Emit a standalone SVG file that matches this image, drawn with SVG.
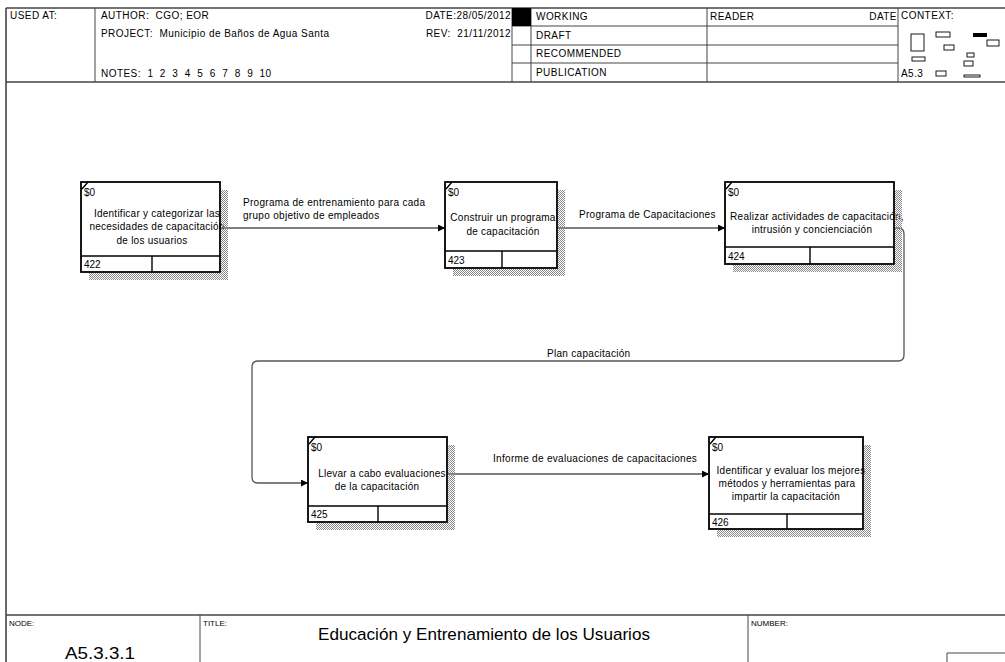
<svg xmlns="http://www.w3.org/2000/svg" width="1005" height="662" viewBox="0 0 1005 662">
  <style>
    text { font-family: "Liberation Sans", Arial, sans-serif; fill: #000; white-space: pre; }
    .hdr { font-size: 10px; letter-spacing: 0.45px; }
    .lbl { font-size: 10px; letter-spacing: 0.3px; }
    .nt  { font-size: 10px; letter-spacing: 0.25px; text-anchor: middle; }
    .small { font-size: 10px; }
    .frame { stroke: #444; stroke-width: 1.6; fill: none; }
    .thin { stroke: #444; stroke-width: 1; fill: none; }
    .box { stroke: #000; stroke-width: 1.8; fill: #fff; }
    .div { stroke: #000; stroke-width: 1.4; fill: none; }
    .shadow { fill: url(#hatch); }
    .conn { stroke: #555; stroke-width: 1.3; fill: none; }
    .ctx { stroke: #000; stroke-width: 0.9; fill: #fff; }
  </style>
  <defs>
    <pattern id="hatch" width="2" height="2" patternUnits="userSpaceOnUse">
      <rect width="1" height="1" fill="#8a8a8a"/>
      <rect x="1" y="1" width="1" height="1" fill="#8a8a8a"/>
    </pattern>
    <marker id="arrow" viewBox="0 0 10 10" refX="10" refY="5" markerWidth="9" markerHeight="7" markerUnits="userSpaceOnUse" orient="auto">
      <path d="M0,0 L10,5 L0,10 Z" fill="#000"/>
    </marker>
  </defs>

  <rect width="1005" height="662" fill="#fff"/>

  <!-- header block -->
  <g id="header">
    <line class="frame" x1="6" y1="8" x2="1005" y2="8"/>
    <line class="frame" x1="6" y1="8" x2="6" y2="662"/>
    <line class="frame" x1="6" y1="82" x2="1005" y2="82"/>
    <line class="thin" x1="95" y1="8" x2="95" y2="82"/>
    <line class="thin" x1="512" y1="8" x2="512" y2="82"/>
    <line class="thin" x1="531" y1="8" x2="531" y2="82"/>
    <line class="thin" x1="707" y1="8" x2="707" y2="82"/>
    <line class="thin" x1="898" y1="8" x2="898" y2="82"/>
    <line class="thin" x1="512" y1="26" x2="898" y2="26"/>
    <line class="thin" x1="512" y1="45" x2="898" y2="45"/>
    <line class="thin" x1="512" y1="63" x2="898" y2="63"/>
    <rect x="512" y="8" width="19" height="18" fill="#000"/>
    <text class="hdr" x="10" y="19">USED AT:</text>
    <text class="hdr" x="101" y="19">AUTHOR:  CGO; EOR</text>
    <text class="hdr" x="101" y="37">PROJECT:  Municipio de Baños de Agua Santa</text>
    <text class="hdr" x="101" y="77">NOTES:  1  2  3  4  5  6  7  8  9  10</text>
    <text class="hdr" x="511" y="19" text-anchor="end" letter-spacing="0">DATE:28/05/2012</text>
    <text class="hdr" x="511" y="37" text-anchor="end" letter-spacing="0">REV:  21/11/2012</text>
    <text class="hdr" x="536" y="20">WORKING</text>
    <text class="hdr" x="536" y="39">DRAFT</text>
    <text class="hdr" x="536" y="57">RECOMMENDED</text>
    <text class="hdr" x="536" y="76">PUBLICATION</text>
    <text class="hdr" x="710" y="20">READER</text>
    <text class="hdr" x="897" y="20" text-anchor="end" letter-spacing="0">DATE</text>
    <text class="hdr" x="901" y="19">CONTEXT:</text>
    <text class="hdr" x="901" y="77" letter-spacing="0">A5.3</text>
    <!-- context thumbnail -->
    <rect class="ctx" x="911" y="34" width="13" height="17"/>
    <rect class="ctx" x="936" y="32" width="14" height="5"/>
    <rect x="973" y="33" width="14" height="4" fill="#000"/>
    <rect class="ctx" x="987" y="40" width="12" height="6"/>
    <rect class="ctx" x="944" y="45" width="10" height="5"/>
    <rect class="ctx" x="912" y="57" width="13" height="4"/>
    <rect class="ctx" x="967" y="53" width="7" height="4"/>
    <rect class="ctx" x="964" y="61" width="9" height="5"/>
    <rect class="ctx" x="936" y="71" width="10" height="5"/>
    <rect class="ctx" x="964" y="75" width="16" height="2"/>
  </g>

  <!-- connectors -->
  <g id="connectors">
    <line class="conn" x1="220" y1="228" x2="445" y2="228" marker-end="url(#arrow)"/>
    <text class="lbl" x="243" y="206">Programa de entrenamiento para cada</text>
    <text class="lbl" x="243" y="219">grupo objetivo de empleados</text>

    <line class="conn" x1="557" y1="228" x2="725" y2="228" marker-end="url(#arrow)"/>
    <text class="lbl" x="579" y="218">Programa de Capacitaciones</text>

    <path class="conn" d="M894,228 L898,228 Q904,228 904,234 L904,355 Q904,361 898,361 L258,361 Q252,361 252,367 L252,477 Q252,483 258,483 L308,483" marker-end="url(#arrow)"/>
    <text class="lbl" x="547" y="357">Plan capacitación</text>

    <line class="conn" x1="447" y1="474" x2="709" y2="474" marker-end="url(#arrow)"/>
    <text class="lbl" x="493" y="462">Informe de evaluaciones de capacitaciones</text>
  </g>

  <!-- activity 422 -->
  <g id="node-422">
    <rect class="box" x="81" y="182" width="139" height="90"/>
    <line class="div" x1="81" y1="256" x2="220" y2="256"/>
    <line class="div" x1="152" y1="256" x2="152" y2="272"/>
    <line class="div" x1="82" y1="189" x2="88" y2="182"/>
    <text class="small" x="84" y="196">$0</text>
    <text class="nt" x="157" y="217">Identificar y categorizar las</text>
    <text class="nt" x="157" y="230">necesidades de capacitación</text>
    <text class="nt" x="152" y="244">de los usuarios</text>
    <text class="small" x="84" y="268">422</text>
    <path class="shadow" d="M221,190 H228 V280 H89 V273 H221 Z"/>
  </g>

  <!-- activity 423 -->
  <g id="node-423">
    <rect class="box" x="445" y="182" width="112" height="86"/>
    <line class="div" x1="445" y1="251" x2="557" y2="251"/>
    <line class="div" x1="502" y1="251" x2="502" y2="268"/>
    <line class="div" x1="446" y1="189" x2="452" y2="182"/>
    <text class="small" x="448" y="196">$0</text>
    <text class="nt" x="503" y="221">Construir un programa</text>
    <text class="nt" x="503" y="235">de capacitación</text>
    <text class="small" x="448" y="264">423</text>
    <path class="shadow" d="M558,190 H565 V276 H453 V269 H558 Z"/>
  </g>

  <!-- activity 424 -->
  <g id="node-424">
    <rect class="box" x="725" y="182" width="169" height="82"/>
    <line class="div" x1="725" y1="247" x2="894" y2="247"/>
    <line class="div" x1="810" y1="247" x2="810" y2="264"/>
    <line class="div" x1="726" y1="189" x2="732" y2="182"/>
    <text class="small" x="728" y="196">$0</text>
    <text class="nt" x="817" y="220">Realizar actividades de capacitación,</text>
    <text class="nt" x="812" y="233">intrusión y concienciación</text>
    <text class="small" x="728" y="260">424</text>
    <path class="shadow" d="M895,190 H902 V272 H733 V265 H895 Z"/>
  </g>

  <!-- activity 425 -->
  <g id="node-425">
    <rect class="box" x="308" y="437" width="139" height="85"/>
    <line class="div" x1="308" y1="506" x2="447" y2="506"/>
    <line class="div" x1="378" y1="506" x2="378" y2="522"/>
    <line class="div" x1="309" y1="444" x2="315" y2="437"/>
    <text class="small" x="311" y="451">$0</text>
    <text class="nt" x="382" y="477">Llevar a cabo evaluaciones</text>
    <text class="nt" x="377" y="490">de la capacitación</text>
    <text class="small" x="311" y="518">425</text>
    <path class="shadow" d="M448,445 H455 V530 H316 V523 H448 Z"/>
  </g>

  <!-- activity 426 -->
  <g id="node-426">
    <rect class="box" x="709" y="437" width="154" height="92"/>
    <line class="div" x1="709" y1="514" x2="863" y2="514"/>
    <line class="div" x1="787" y1="514" x2="787" y2="529"/>
    <line class="div" x1="710" y1="444" x2="716" y2="437"/>
    <text class="small" x="712" y="451">$0</text>
    <text class="nt" x="791" y="474">Identificar y evaluar los mejores</text>
    <text class="nt" x="787" y="487">métodos y herramientas para</text>
    <text class="nt" x="786" y="500">impartir la capacitación</text>
    <text class="small" x="712" y="526">426</text>
    <path class="shadow" d="M864,445 H871 V537 H717 V530 H864 Z"/>
  </g>

  <!-- footer block -->
  <g id="footer">
    <line class="frame" x1="6" y1="615" x2="1005" y2="615"/>
    <line class="thin" x1="200" y1="615" x2="200" y2="662"/>
    <line class="thin" x1="748" y1="615" x2="748" y2="662"/>
    <polyline class="thin" points="947,662 947,653 1005,653"/>
    <text x="9" y="626" font-size="8">NODE:</text>
    <text x="203" y="626" font-size="8">TITLE:</text>
    <text x="751" y="626" font-size="8">NUMBER:</text>
    <text x="318" y="640" font-size="17" textLength="332" lengthAdjust="spacingAndGlyphs">Educación y Entrenamiento de los Usuarios</text>
    <text x="65" y="659" font-size="17" textLength="70" lengthAdjust="spacingAndGlyphs">A5.3.3.1</text>
  </g>
</svg>
